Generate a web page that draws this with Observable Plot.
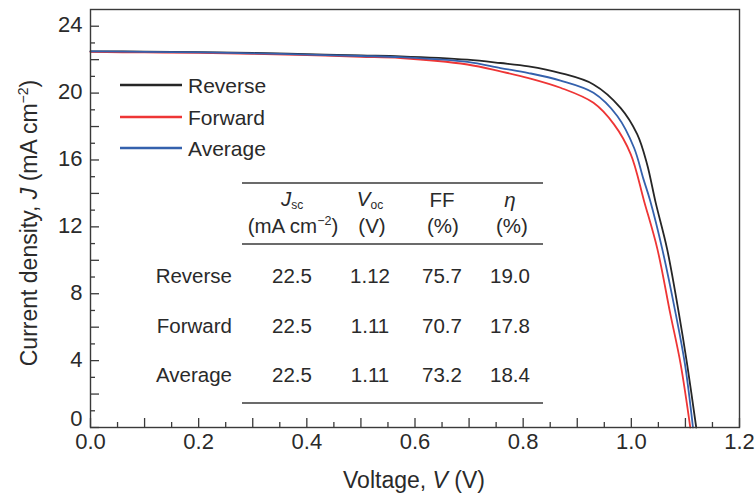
<!DOCTYPE html>
<html><head><meta charset="utf-8">
<script src="https://cdn.jsdelivr.net/npm/d3@7"></script>
<script src="https://cdn.jsdelivr.net/npm/@observablehq/plot@0.6"></script>
<style>
body{margin:0;background:#fff;}
#chart{width:756px;height:493px;}
</style>
</head><body><div id="chart"></div>
<script>
// ---- data ----
const seriesNames = ["Reverse", "Forward", "Average"];
const seriesColors = ["#262626", "#ee3535", "#3461ad"];

const reverseV = [0, 0.1, 0.2, 0.3, 0.4, 0.5, 0.573, 0.697, 0.758, 0.81, 0.869, 0.93, 0.98, 1.011, 1.029, 1.045, 1.066, 1.088, 1.103, 1.12];
const reverseJ = [22.5, 22.48, 22.45, 22.4, 22.33, 22.25, 22.2, 22.0, 21.8, 21.6, 21.2, 20.52, 19.12, 17.53, 15.76, 13.45, 10.7, 6.81, 3.82, 0];

const forwardV = [0, 0.1, 0.2, 0.3, 0.4, 0.5, 0.573, 0.697, 0.758, 0.81, 0.869, 0.93, 0.968, 0.999, 1.0235, 1.048, 1.072, 1.091, 1.109];
const forwardJ = [22.46, 22.43, 22.4, 22.35, 22.27, 22.17, 22.1, 21.71, 21.3, 20.9, 20.32, 19.42, 18.13, 16.34, 13.55, 10.7, 6.81, 3.82, 0];

const averageV = [0, 0.1, 0.2, 0.3, 0.4, 0.5, 0.573, 0.697, 0.758, 0.81, 0.869, 0.93, 0.974, 1.005, 1.022, 1.035, 1.057, 1.082, 1.099, 1.114];
const averageJ = [22.5, 22.47, 22.43, 22.38, 22.3, 22.22, 22.15, 21.87, 21.5, 21.2, 20.75, 20.02, 18.63, 16.73, 14.9, 13.55, 10.7, 6.81, 3.82, 0];

const xMajorTicks = [0, 0.1, 0.2, 0.3, 0.4, 0.5, 0.6, 0.7, 0.8, 0.9, 1.0, 1.1, 1.2];
const xMinorTicks = [0.05, 0.15, 0.25, 0.35, 0.45, 0.55, 0.65, 0.75, 0.85, 0.95, 1.05, 1.15];
const xTickLabels = [0, 0.2, 0.4, 0.6, 0.8, 1.0, 1.2];
const yMajorTicks = [0, 2, 4, 6, 8, 10, 12, 14, 16, 18, 20, 22, 24];
const yMinorTicks = [1, 3, 5, 7, 9, 11, 13, 15, 17, 19, 21, 23];
const yTickLabels = [4, 8, 12, 16, 20, 24];
const yOriginLabel = [0];

const tableRowNames = ["Reverse", "Forward", "Average"];
const jscValues = ["22.5", "22.5", "22.5"];
const vocValues = ["1.12", "1.11", "1.11"];
const ffValues = ["75.7", "70.7", "73.2"];
const etaValues = ["19.0", "17.8", "18.4"];

// ---- build table for Plot ----
const curves = [
  {name: seriesNames[0], V: reverseV, J: reverseJ},
  {name: seriesNames[1], V: forwardV, J: forwardJ},
  {name: seriesNames[2], V: averageV, J: averageJ}
];
const rows = curves.flatMap(c => c.V.map((v, i) => ({series: c.name, V: v, J: c.J[i]})));

const FONT = "'Liberation Sans', Arial, Helvetica, sans-serif";
const TXT = "#2a2a2a";
const AX = "#3a3a3a";

const chart = Plot.plot({
  width: 756, height: 493,
  marginLeft: 90, marginRight: 17, marginTop: 9, marginBottom: 66,
  style: {fontFamily: FONT, color: TXT, background: "#fff"},
  x: {domain: [0, 1.2], label: null},
  y: {domain: [0, 25], label: null},
  color: {domain: seriesNames, range: seriesColors},
  marks: [
    Plot.line(rows, {x: "V", y: "J", z: "series", stroke: "series", strokeWidth: 1.8, curve: "catmull-rom"}),
    Plot.frame({stroke: AX, strokeWidth: 1.4}),
    Plot.axisX(xMajorTicks, {tickSize: -9, fill: "none", stroke: AX, strokeWidth: 1.3, label: null}),
    Plot.axisX(xMinorTicks, {tickSize: -5, fill: "none", stroke: AX, strokeWidth: 1.3, label: null}),
    Plot.axisX(xTickLabels, {tickSize: 0, tickPadding: 6, tickFormat: d => d.toFixed(1), fontSize: 22, fill: TXT, label: null}),
    Plot.axisY(yMajorTicks, {tickSize: -9, fill: "none", stroke: AX, strokeWidth: 1.3, label: null}),
    Plot.axisY(yMinorTicks, {tickSize: -5, fill: "none", stroke: AX, strokeWidth: 1.3, label: null}),
    Plot.axisY(yTickLabels, {tickSize: 0, tickPadding: 8, tickFormat: d => String(d), fontSize: 22, fill: TXT, label: null, dy: -1}),
    Plot.axisY(yOriginLabel, {tickSize: 0, tickPadding: 8, tickFormat: d => String(d), fontSize: 22, fill: TXT, label: null, dy: -9})
  ]
});
document.getElementById("chart").appendChild(chart);

// ---- annotations: axis titles, legend, inset table ----
const svg = d3.select(chart);
const ann = svg.append("g").attr("font-family", FONT).attr("fill", TXT).attr("text-anchor", "start");

// x-axis title
const xt = ann.append("text").attr("x", 414).attr("y", 488).attr("text-anchor", "middle").attr("font-size", 23);
xt.append("tspan").text("Voltage, ");
xt.append("tspan").attr("font-style", "italic").text("V");
xt.append("tspan").text(" (V)");

// y-axis title
const yt = ann.append("text").attr("transform", "translate(37,223) rotate(-90)").attr("text-anchor", "middle").attr("font-size", 23);
yt.append("tspan").text("Current density, ");
yt.append("tspan").attr("font-style", "italic").text("J");
yt.append("tspan").text(" (mA cm");
yt.append("tspan").attr("font-size", 14).attr("dy", -9).text("\u22122");
yt.append("tspan").attr("dy", 9).text(")");

// legend
const legY = [85, 117, 148];
seriesNames.forEach((n, i) => {
  ann.append("line").attr("x1", 120).attr("x2", 182).attr("y1", legY[i]).attr("y2", legY[i])
    .attr("stroke", seriesColors[i]).attr("stroke-width", 2.6);
  ann.append("text").attr("x", 188).attr("y", legY[i] + 7.5).attr("text-anchor", "start").attr("font-size", 21).text(n);
});

// table
const tLineX = [242, 543];
[183, 244, 403].forEach(y => {
  ann.append("line").attr("x1", tLineX[0]).attr("x2", tLineX[1]).attr("y1", y).attr("y2", y)
    .attr("stroke", AX).attr("stroke-width", 1.4);
});
const colX = [292, 370, 442, 510];
const hdrY1 = 206, hdrY2 = 233;
// header row 1
let h = ann.append("text").attr("x", colX[0]).attr("y", hdrY1).attr("text-anchor", "middle").attr("font-size", 20.5);
h.append("tspan").attr("font-style", "italic").text("J");
h.append("tspan").attr("font-size", 12).attr("dy", 3).text("sc");
h = ann.append("text").attr("x", colX[1]).attr("y", hdrY1).attr("text-anchor", "middle").attr("font-size", 20.5);
h.append("tspan").attr("font-style", "italic").text("V");
h.append("tspan").attr("font-size", 12).attr("dy", 3).text("oc");
ann.append("text").attr("x", colX[2]).attr("y", hdrY1 + 1).attr("text-anchor", "middle").attr("font-size", 20.5).text("FF");
ann.append("text").attr("x", colX[3]).attr("y", hdrY1 + 1).attr("text-anchor", "middle").attr("font-size", 20.5).attr("font-style", "italic").text("\u03b7");
// header row 2
h = ann.append("text").attr("x", colX[0] + 1).attr("y", hdrY2).attr("text-anchor", "middle").attr("font-size", 20.5);
h.append("tspan").text("(mA cm");
h.append("tspan").attr("font-size", 12.5).attr("dy", -8).text("\u22122");
h.append("tspan").attr("dy", 8).text(")");
ann.append("text").attr("x", colX[1] + 2).attr("y", hdrY2).attr("text-anchor", "middle").attr("font-size", 20.5).text("(V)");
ann.append("text").attr("x", colX[2] + 1).attr("y", hdrY2).attr("text-anchor", "middle").attr("font-size", 20.5).text("(%)");
ann.append("text").attr("x", colX[3] + 2).attr("y", hdrY2).attr("text-anchor", "middle").attr("font-size", 20.5).text("(%)");
// body
const rowY = [283, 333, 382];
const cols = [jscValues, vocValues, ffValues, etaValues];
tableRowNames.forEach((n, r) => {
  ann.append("text").attr("x", 232).attr("y", rowY[r]).attr("text-anchor", "end").attr("font-size", 20.5).text(n);
  cols.forEach((vals, c) => {
    ann.append("text").attr("x", colX[c]).attr("y", rowY[r]).attr("text-anchor", "middle").attr("font-size", 20.5).text(vals[r]);
  });
});
</script>
</body></html>
